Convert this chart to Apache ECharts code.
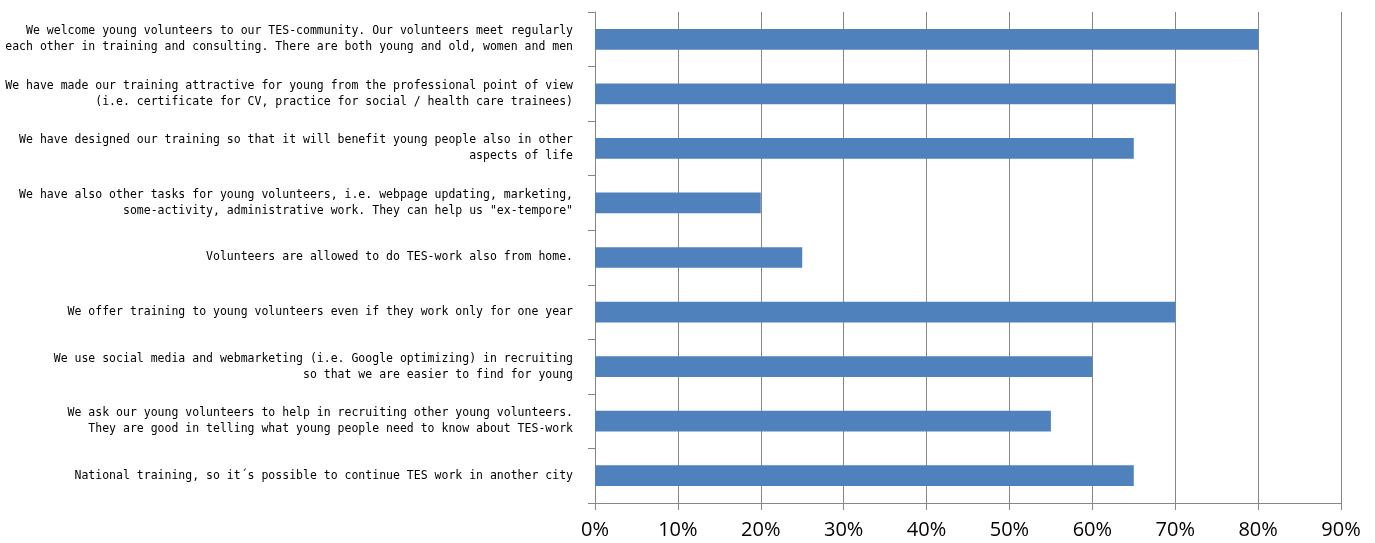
<!DOCTYPE html>
<html>
<head>
<meta charset="utf-8">
<script src="https://cdn.jsdelivr.net/npm/echarts@6/dist/echarts.min.js"></script>
<style>html,body{margin:0;padding:0;background:#fff;}#c{width:1375px;height:543px;}</style>
</head>
<body>
<div id="c"></div>
<script>
var categories = [
  "We welcome young volunteers to our TES-community. Our volunteers meet regularly\neach other in training and consulting. There are both young and old, women and men",
  "We have made our training attractive for young from the professional point of view\n(i.e. certificate for CV, practice for social / health care trainees)",
  "We have designed our training so that it will benefit young people also in other\naspects of life",
  "We have also other tasks for young volunteers, i.e. webpage updating, marketing,\nsome-activity, administrative work. They can help us \"ex-tempore\"",
  "Volunteers are allowed to do TES-work also from home.",
  "We offer training to young volunteers even if they work only for one year",
  "We use social media and webmarketing (i.e. Google optimizing) in recruiting\nso that we are easier to find for young",
  "We ask our young volunteers to help in recruiting other young volunteers.\nThey are good in telling what young people need to know about TES-work",
  "National training, so it\u00b4s possible to continue TES work in another city"
];
var values = [80, 70, 65, 20, 25, 70, 60, 55, 65];
var xTicks = [0, 10, 20, 30, 40, 50, 60, 70, 80, 90];

var chart = echarts.init(document.getElementById('c'));
chart.setOption({
  animation: false,
  grid: { left: 595, right: 34, top: 12, bottom: 40, containLabel: false, outerBoundsMode: 'none' },
  xAxis: {
    type: 'value',
    min: xTicks[0],
    max: xTicks[xTicks.length - 1],
    interval: 10,
    axisLine: { show: true, lineStyle: { color: '#868686', width: 1 } },
    axisTick: { show: true, length: 7, lineStyle: { color: '#868686' } },
    splitLine: { show: true, lineStyle: { color: '#868686', width: 1 } },
    axisLabel: {
      formatter: '{value}%',
      fontFamily: '"Open Sans", "Liberation Sans", sans-serif',
      fontSize: 20,
      color: '#000',
      margin: 17
    }
  },
  yAxis: {
    type: 'category',
    inverse: true,
    data: categories,
    axisLine: { show: true, lineStyle: { color: '#868686', width: 1 } },
    axisTick: { show: true, length: 7, interval: 0, lineStyle: { color: '#868686' } },
    splitLine: { show: false },
    axisLabel: {
      interval: 0,
      fontFamily: '"DejaVu Sans Mono", "Liberation Mono", monospace',
      fontSize: 11.5,
      lineHeight: 16,
      color: '#000',
      margin: 22,
      align: 'right',
      padding: [4, 0, 0, 0]
    }
  },
  series: [{
    type: 'bar',
    data: values,
    barWidth: '38%',
    itemStyle: { color: '#4F81BD' }
  }]
});
</script>
</body>
</html>
